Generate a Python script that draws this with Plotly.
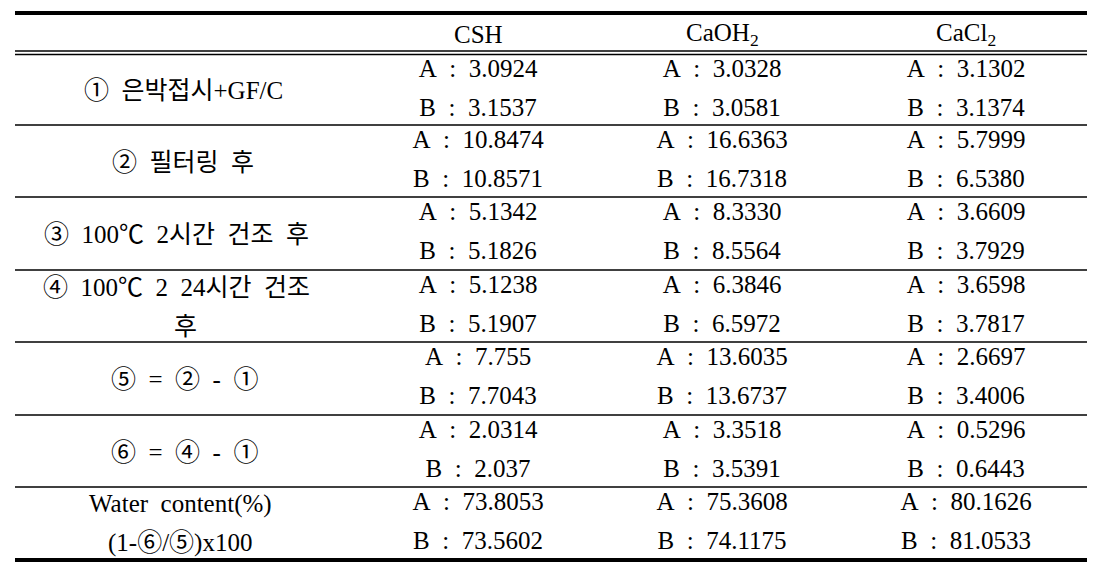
import plotly.graph_objects as go

# table content
columns = ['CSH', 'CaOH<sub>2</sub>', 'CaCl<sub>2</sub>']
row_labels = [
    ['①  은박접시+GF/C'],
    ['②  필터링  후'],
    ['③  100℃  2시간  건조  후'],
    ['④  100℃  2  24시간  건조', '후'],
    ['⑤  =  ②  -  ①'],
    ['⑥  =  ④  -  ①'],
    ['Water  content(%)', '(1-⑥/⑤)x100'],
]
csh_a = ['3.0924', '10.8474', '5.1342', '5.1238', '7.755', '2.0314', '73.8053']
csh_b = ['3.1537', '10.8571', '5.1826', '5.1907', '7.7043', '2.037', '73.5602']
caoh2_a = ['3.0328', '16.6363', '8.3330', '6.3846', '13.6035', '3.3518', '75.3608']
caoh2_b = ['3.0581', '16.7318', '8.5564', '6.5972', '13.6737', '3.5391', '74.1175']
cacl2_a = ['3.1302', '5.7999', '3.6609', '3.6598', '2.6697', '0.5296', '80.1626']
cacl2_b = ['3.1374', '6.5380', '3.7929', '3.7817', '3.4006', '0.6443', '81.0533']

W, H = 1098, 574
PAD = 8  # page body margin
FONT = 'Liberation Serif, Times New Roman, Noto Sans CJK KR, serif'
SIZE = 25
x_left, x_right = 15, 1087
label_x = [183, 183, 176, 176, 184, 184, 180]
col_x = [478, 722, 966]
row_tops = [54, 125, 197, 270, 342, 415, 487]
row_bottom = 558
sp = '\u00a0\u00a0'

fig = go.Figure()

series = [(csh_a, csh_b), (caoh2_a, caoh2_b), (cacl2_a, cacl2_b)]
for cx, (va, vb) in zip(col_x, series):
    ys, txt = [], []
    for top, a, b in zip(row_tops, va, vb):
        ys += [top + 17, top + 56]
        txt += ['A' + sp + ':' + sp + a, 'B' + sp + ':' + sp + b]
    fig.add_trace(go.Scatter(
        x=[cx] * len(ys), y=ys, text=txt, mode='text',
        textposition='middle center',
        textfont=dict(family=FONT, size=SIZE, color='black'),
        hoverinfo='skip', showlegend=False,
    ))

# header
for cx, name in zip(col_x, columns):
    fig.add_annotation(x=cx, y=34, text=name, showarrow=False,
                       font=dict(family=FONT, size=SIZE, color='black'),
                       xanchor='center', yanchor='middle')

# row labels
for i, lines in enumerate(row_labels):
    top = row_tops[i]
    bottom = row_tops[i + 1] if i + 1 < len(row_tops) else row_bottom
    if len(lines) == 1:
        ys = [(top + bottom) / 2 + 1]
    else:
        ys = [top + 17, top + 56]
    for j, (y, t) in enumerate(zip(ys, lines)):
        lx = label_x[i] if not (i == 3 and j == 1) else 185
        fig.add_annotation(x=lx, y=y, text=t, showarrow=False,
                           font=dict(family=FONT, size=SIZE, color='black'),
                           xanchor='center', yanchor='middle')

# rules
shapes = [
    dict(type='line', x0=x_left, x1=x_right, y0=13, y1=13, line=dict(color='black', width=4)),
    dict(type='line', x0=x_left, x1=x_right, y0=51, y1=51, line=dict(color='black', width=1.3)),
    dict(type='line', x0=x_left, x1=x_right, y0=54.5, y1=54.5, line=dict(color='black', width=1.3)),
    dict(type='line', x0=x_left, x1=x_right, y0=row_bottom + 2, y1=row_bottom + 2,
         line=dict(color='black', width=4)),
]
for y in row_tops[1:]:
    shapes.append(dict(type='line', x0=x_left, x1=x_right, y0=y, y1=y,
                       line=dict(color='black', width=1.3)))
for s in shapes:
    s.update(xref='x', yref='y', layer='above')

fig.update_layout(
    width=W - PAD, height=H - PAD, margin=dict(l=0, r=0, t=0, b=0),
    paper_bgcolor='white', plot_bgcolor='white',
    shapes=shapes,
    xaxis=dict(range=[PAD, W], visible=False, fixedrange=True),
    yaxis=dict(range=[H, PAD], visible=False, fixedrange=True),
)

fig.write_html('out.html')
